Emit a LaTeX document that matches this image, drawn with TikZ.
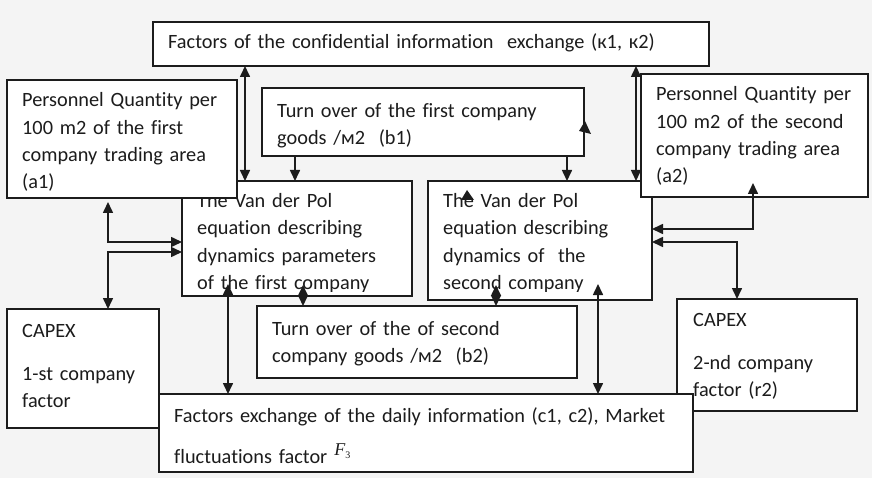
\documentclass[tikz,border=0pt]{standalone}
\usepackage{fontspec}
\setmainfont{Carlito}[Ligatures=NoCommon]
\newfontfamily\serifmath{Liberation Serif}
\usetikzlibrary{arrows.meta,calc}
\definecolor{bg}{RGB}{244,244,244}
\definecolor{ink}{RGB}{28,28,28}
\begin{document}
\begin{tikzpicture}[x=1pt,y=-1pt,
  box/.style={draw=ink, fill=white, line width=1.6pt, inner sep=0pt, outer sep=0pt, anchor=north west},
  txt/.style={anchor=base west, inner sep=0pt, text=ink, text width=700pt, align=left,
              font=\fontsize{20.3}{27.3}\selectfont},
  conn/.style={draw=ink, line width=1.6pt},
  dbl/.style={conn, {Triangle[length=11pt,width=10pt]}-{Triangle[length=11pt,width=10pt]}},
  one/.style={conn, -{Triangle[length=11pt,width=10pt]}}]

% canvas
\fill[bg] (0,0) rectangle (872,478);
\useasboundingbox (0,0) rectangle (872,478);

% confidential information exchange
\node[box, minimum width=556pt, minimum height=44pt] (K) at (153,22) {};
\node[txt] (Kt) at (168,49) {Factors of the confidential information\ \ exchange (к1, к2)};

% turnover of the first company
\node[box, minimum width=322pt, minimum height=68pt] (b1) at (262,88) {};
\node[txt] (b1t) at (277,117.5) {Turn over of the first company\\goods /м2\ \ (b1)};

% turnover of the second company
\node[box, minimum width=320pt, minimum height=72pt] (b2) at (257,306) {};
\node[txt] (b2t) at (272,335) {Turn over of the of second\\company goods /м2\ \ (b2)};

% Van der Pol equation, first company
\node[box, minimum width=230pt, minimum height=115pt] (v1) at (182,181) {};
\begin{scope}
  \clip (v1.north west) rectangle ($(v1.south east)+(0,-5)$);
  \node[txt] (v1t) at (197,207.5) {The Van der Pol\\equation describing\\dynamics parameters\\of the first company};
\end{scope}

% Van der Pol equation, second company
\node[box, minimum width=224pt, minimum height=119pt] (v2) at (428,181) {};
\begin{scope}
  \clip (v2.north west) rectangle ($(v2.south east)+(0,-9)$);
  \node[txt] (v2t) at (443,207.5) {The Van der Pol\\equation describing\\dynamics of\ \ the\\second company};
\end{scope}

% personnel quantity, first and second company
\node[box, minimum width=230pt, minimum height=118pt] (a1) at (7,80) {};
\node[txt] (a1t) at (22,107) {Personnel Quantity per\\100 m2 of the first\\company trading area\\(a1)};
\node[box, minimum width=227pt, minimum height=123pt] (a2) at (641,74) {};
\node[txt] (a2t) at (656,101) {Personnel Quantity per\\100 m2 of the second\\company trading area\\(a2)};

% CAPEX factors
\node[box, minimum width=152pt, minimum height=119pt] (c1) at (7,309) {};
\node[txt] (c1a) at (22,337) {CAPEX};
\node[txt] (c1b) at (22,380) {1-st company\\factor};
\node[box, minimum width=180pt, minimum height=112pt] (c2) at (677,299) {};
\node[txt] (c2a) at (693,326) {CAPEX};
\node[txt] (c2b) at (693,369) {2-nd company\\factor (r2)};

% daily information exchange and market fluctuations
\node[box, minimum width=534pt, minimum height=78pt] (F) at (159,394) {};
\node[txt] (Ft1) at (174,422) {Factors exchange of the daily information (c1, c2), Market};
\node[txt] (Ft2) at (174,463) {fluctuations factor\hspace{7pt}\raisebox{8pt}{{\serifmath\itshape\fontsize{18}{18}\selectfont F}\raisebox{-3pt}{\serifmath\fontsize{10}{10}\selectfont 3}}};

% connectors
\draw[dbl] (245,0 |- K.south) -- (245,0 |- v1.north);
\draw[dbl] (636,0 |- K.south) -- (636,0 |- v2.north);
\draw[one] (295,0 |- b1.south) -- (295,0 |- v1.north);
\draw[one] (567,0 |- b1.south) -- (567,0 |- v2.north);
\draw[dbl] ($(a1.south -| 108,0)+(0,4)$) |- (v1.west |- 0,242);
\draw[dbl] (v1.west |- 0,252) -| (108,0 |- c1.north);
\draw[dbl] ($(a2.south -| 753,0)+(0,-14)$) |- (v2.east |- 0,229);
\draw[dbl] (v2.east |- 0,242) -| (737,0 |- c2.north);
\draw[dbl] (228,0 |- F.north) -- ($(v1.south -| 228,0)+(0,-12)$);
\draw[dbl] (598,0 |- F.north) -- ($(v2.south -| 598,0)+(0,-16)$);
\draw[dbl] ($(v1.south -| 303,0)+(0,-11)$) -- (303,0 |- b2.north);
\draw[dbl] ($(v2.south -| 496,0)+(0,-15)$) -- (496,0 |- b2.north);

% loose arrow heads
\fill[ink] (585,121) -- (579,131) -- (591,134) -- cycle;
\fill[ink] (467,190) -- (461,200) -- (474,200) -- cycle;
\end{tikzpicture}
\end{document}
